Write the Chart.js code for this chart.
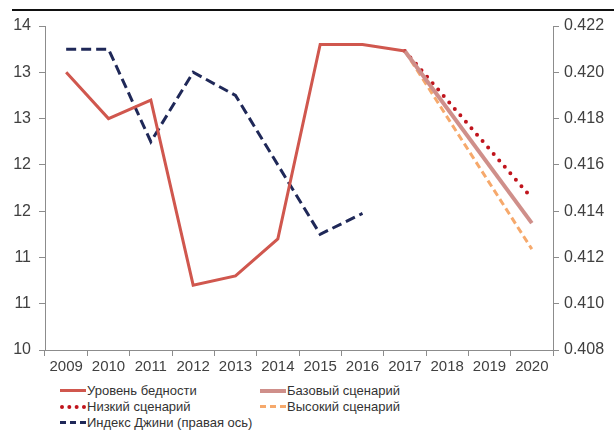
<!DOCTYPE html>
<html lang="ru">
<head>
<meta charset="UTF-8">
<script src="https://cdn.jsdelivr.net/npm/chart.js"></script>
<title>Уровень бедности и индекс Джини</title>
<style>
    body {
        margin: 0;
        background: #fff;
        font-family: "Liberation Sans", Arial, sans-serif;
    }
    #wrap {
        position: relative;
        width: 614px;
        height: 435px;
    }
    #topline {
        position: absolute;
        left: 12px;
        top: 9px;
        width: 602px;
        border-top: 2px solid #111;
    }
    #chart {
        position: absolute;
        left: 0;
        top: 0;
    }
    .leg {
        position: absolute;
        font-size: 13px;
        color: #333;
        white-space: nowrap;
        line-height: 16px;
    }
    .leg i {
        display: inline-block;
        width: 26px;
        vertical-align: middle;
        margin-right: 1px;
        position: relative;
        top: -1px;
    }
</style>
</head>
<body>
<div id="wrap">
    <div id="topline"></div>
    <canvas id="chart" width="614" height="380"></canvas>
    <div class="leg" style="left:60px;top:383px"><i style="border-top:3px solid #d0574e"></i>Уровень бедности</div>
    <div class="leg" style="left:260px;top:383px"><i style="border-top:4px solid #cf8f8a"></i>Базовый сценарий</div>
    <div class="leg" style="left:60px;top:399px"><i style="border-top:4px dotted #c0141c"></i>Низкий сценарий</div>
    <div class="leg" style="left:260px;top:399px"><i style="border-top:3px dashed #f6a96c"></i>Высокий сценарий</div>
    <div class="leg" style="left:60px;top:415px"><i style="border-top:3px dashed #1f2858"></i>Индекс Джини (правая ось)</div>
</div>
<script>
    const years = ['2009', '2010', '2011', '2012', '2013', '2014', '2015', '2016', '2017', '2018', '2019', '2020'];
    const poverty = [13.0, 12.5, 12.7, 10.7, 10.8, 11.2, 13.3, 13.3, 13.23, null, null, null];
    const baseScenario = [null, null, null, null, null, null, null, null, 13.23, null, null, 11.37];
    const lowScenario = [null, null, null, null, null, null, null, null, 13.23, null, null, 11.64];
    const highScenario = [null, null, null, null, null, null, null, null, 13.23, null, null, 11.09];
    const gini = [0.421, 0.421, 0.417, 0.420, 0.419, 0.416, 0.413, 0.4139, null, null, null, null];
    // подписи левой оси (как в исходнике, округлены до целого)
    const leftTickLabels = ['10', '11', '11', '12', '12', '13', '13', '14'];
    const rightTickLabels = ['0.408', '0.410', '0.412', '0.414', '0.416', '0.418', '0.420', '0.422'];

    const axisColor = '#8c8c8c';
    const tickFont = { family: '"Liberation Sans", Arial, sans-serif', size: 16 };

    new Chart(document.getElementById('chart'), {
        type: 'line',
        data: {
            labels: years,
            datasets: [
                { label: 'Уровень бедности', data: poverty, yAxisID: 'y', borderColor: '#d0574e', borderWidth: 3 },
                { label: 'Базовый сценарий', data: baseScenario, yAxisID: 'y', borderColor: '#cf8f8a', borderWidth: 4, spanGaps: true },
                { label: 'Низкий сценарий', data: lowScenario, yAxisID: 'y', borderColor: '#c0141c', borderWidth: 4,
                  borderDash: [0, 8.5], borderCapStyle: 'round', spanGaps: true },
                { label: 'Высокий сценарий', data: highScenario, yAxisID: 'y', borderColor: '#f6a96c', borderWidth: 3,
                  borderDash: [7, 4], spanGaps: true },
                { label: 'Индекс Джини (правая ось)', data: gini, yAxisID: 'y1', borderColor: '#1f2858', borderWidth: 3,
                  borderDash: [10, 5] }
            ]
        },
        options: {
            responsive: false,
            animation: false,
            layout: { padding: { top: 26, left: 0, right: 0, bottom: 0 } },
            elements: { point: { radius: 0 }, line: { tension: 0, fill: false } },
            plugins: { legend: { display: false }, tooltip: { enabled: false } },
            scales: {
                x: {
                    offset: true,
                    grid: { display: true, drawOnChartArea: false, offset: true, tickLength: 6, color: axisColor },
                    border: { color: axisColor },
                    ticks: { color: '#404040', font: { family: tickFont.family, size: 15 }, maxRotation: 0, padding: 2 },
                    afterFit: (axis) => { axis.height = 30; }
                },
                y: {
                    position: 'left',
                    min: 10,
                    max: 13.5,
                    grid: { drawOnChartArea: false, tickLength: 6, color: axisColor },
                    border: { color: axisColor },
                    ticks: {
                        stepSize: 0.5,
                        color: '#404040',
                        font: tickFont,
                        padding: 8,
                        callback: (v, i) => leftTickLabels[i]
                    },
                    afterFit: (axis) => { axis.width = 45; }
                },
                y1: {
                    position: 'right',
                    min: 0.408,
                    max: 0.422,
                    grid: { drawOnChartArea: false, tickLength: 6, color: axisColor },
                    border: { color: axisColor },
                    ticks: {
                        stepSize: 0.002,
                        color: '#404040',
                        font: tickFont,
                        padding: 5,
                        callback: (v, i) => rightTickLabels[i]
                    },
                    afterFit: (axis) => { axis.width = 61; }
                }
            }
        }
    });
</script>
</body>
</html>
